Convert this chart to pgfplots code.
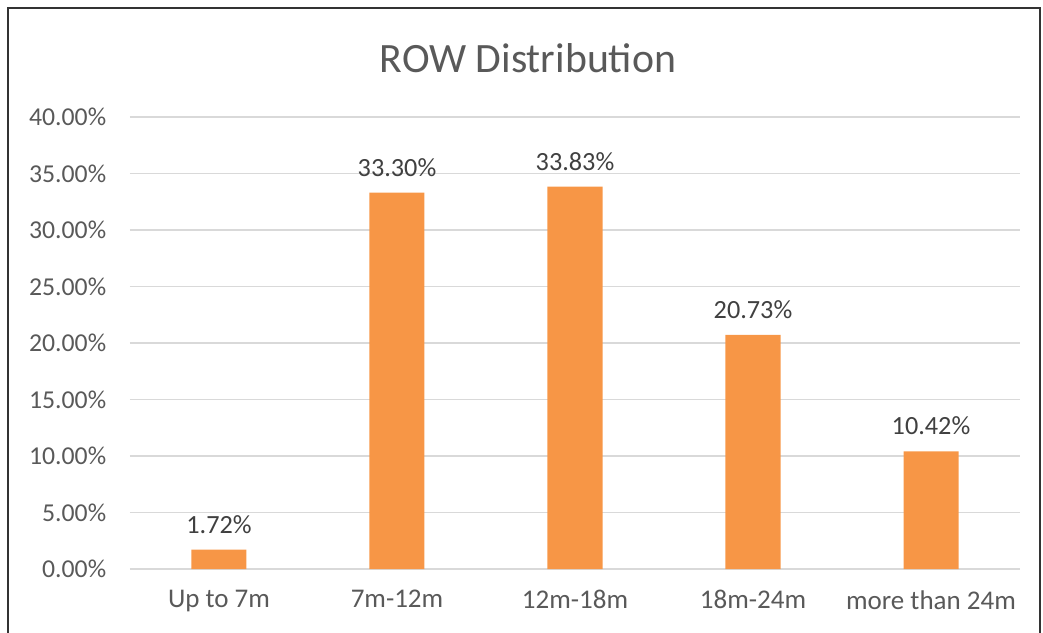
\documentclass[border=0pt]{standalone}
\usepackage{pgfplots}
\pgfplotsset{compat=1.18}
\usepackage{fontspec}
\setmainfont{Carlito}
\definecolor{barorange}{HTML}{F79646}
\definecolor{txtgray}{HTML}{595959}
\definecolor{lblgray}{HTML}{404040}
\definecolor{gridgray}{HTML}{D9D9D9}
\begin{document}
\begin{tikzpicture}
\useasboundingbox (-52pt,-25.2pt) rectangle (365.2pt,227.6pt);
\begin{axis}[
  at={(0,0)}, anchor=south west,
  scale only axis, width=356pt, height=180.8pt,
  xmin=-0.5, xmax=4.5, ymin=0, ymax=40,
  ybar, bar width=22pt,
  axis x line*=bottom, axis y line*=left,
  x axis line style={gridgray, line width=0.8pt},
  y axis line style={draw=none},
  ytick={0,5,...,40}, ymajorgrids, grid style={gridgray, line width=0.6pt},
  major tick length=0pt,
  xtick={0,1,2,3,4},
  xticklabels={Up to 7m,7m-12m,12m-18m,18m-24m,more than 24m},
  xticklabel style={font=\fontsize{10.8}{13}\selectfont, text=txtgray, yshift=-5pt},
  yticklabel style={font=\fontsize{10.3}{12}\selectfont, text=txtgray, xshift=-6pt},
  /pgf/number format/assume math mode=true,
  yticklabel={\pgfmathprintnumber[fixed,fixed zerofill,precision=2]{\tick}\%},
  nodes near coords={\pgfmathprintnumber[fixed,fixed zerofill,precision=2]{\pgfplotspointmeta}\%},
  nodes near coords style={font=\fontsize{10.5}{12}\selectfont, text=lblgray, yshift=3pt},
  clip=false,
]
\addplot[fill=barorange, draw=none] coordinates {
  (0,1.72) (1,33.30) (2,33.83) (3,20.73) (4,10.42)};
\end{axis}
\node[text=txtgray, font=\fontsize{16.7}{20}\selectfont] at (159.2pt,204.4pt) {ROW Distribution};
\draw[black!80, line width=0.9pt] (-48.8pt,-30pt) -- (-48.8pt,224.4pt) -- (364pt,224.4pt) -- (364pt,-30pt);
\end{tikzpicture}
\end{document}
